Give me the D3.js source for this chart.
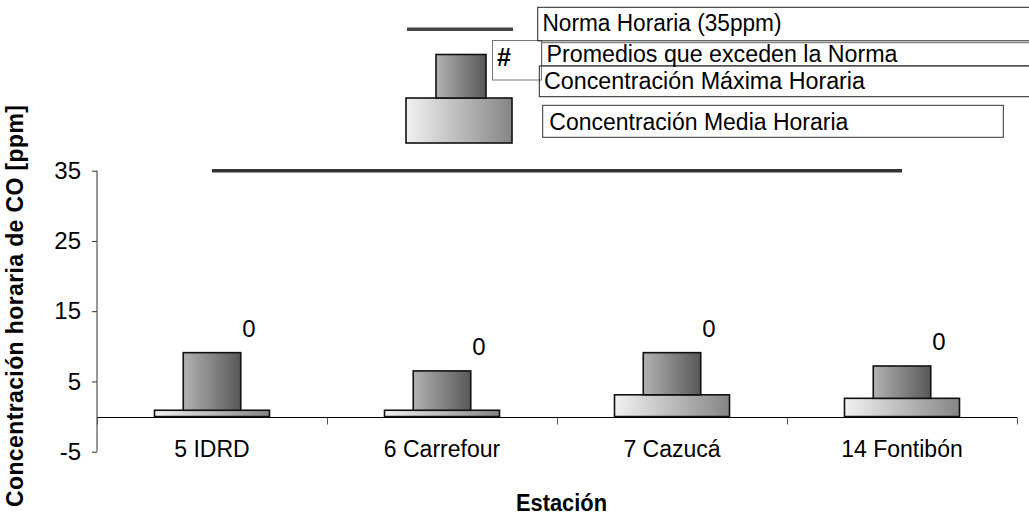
<!DOCTYPE html>
<html>
<head>
<meta charset="utf-8">
<script src="https://cdn.jsdelivr.net/npm/d3@7"></script>
<style>
body { margin: 0; background: #fff; }
svg { display: block; font-family: "Liberation Sans", Arial, sans-serif; }
</style>
</head>
<body>
<svg id="chart" width="1029" height="516"></svg>
<script>
var categories = ['5 IDRD', '6 Carrefour', '7 Cazucá', '14 Fontibón']
var media = [0.9, 0.9, 3.1, 2.6]
var maxima = [9.1, 6.5, 9.1, 7.2]
var excede = [0, 0, 0, 0]
var norma = 35
var yTicks = [-5, 5, 15, 25, 35]

var legendItems = ['Norma Horaria (35ppm)', 'Promedios que exceden la Norma', 'Concentración Máxima Horaria', 'Concentración Media Horaria']

var svg = d3.select('#chart')
var left = 97, right = 1017
var fs = 23

var x = d3.scaleBand().domain(categories).range([left, right])
var y = d3.scaleLinear().domain([-5, 35]).range([451.7, 170.7])

var defs = svg.append('defs')
function gradient(id, c1, c2) {
    var g = defs.append('linearGradient').attr('id', id)
        .attr('x1', '0%').attr('x2', '100%').attr('y1', '0%').attr('y2', '0%')
    g.append('stop').attr('offset', '0%').attr('stop-color', c1)
    g.append('stop').attr('offset', '100%').attr('stop-color', c2)
}
gradient('gmax', '#b2b2b2', '#585858')
gradient('gmed', '#f2f2f2', '#858585')

// y axis
var yAxis = svg.append('g').attr('transform', 'translate(' + left + ',0)')
    .call(d3.axisLeft(y).tickValues(yTicks).tickSize(5).tickPadding(11)
        .tickFormat(function(d) { return String(d) }))
yAxis.select('.domain').attr('stroke', '#333').attr('d', 'M0,' + y(-5) + 'V' + y(35))
yAxis.selectAll('.tick line').attr('stroke', '#333')
yAxis.selectAll('.tick text').attr('font-size', 24).attr('fill', '#000')
    .attr('font-family', '"Liberation Sans", Arial, sans-serif')

// x axis sitting on zero
var y0 = Math.round(y(0)) + 0.5
svg.append('line').attr('x1', left).attr('x2', right).attr('y1', y0).attr('y2', y0)
    .attr('stroke', '#000')
var xt = [left].concat(categories.map(function(c) { return x(c) + x.bandwidth() }))
svg.selectAll('line.xtick').data(xt).enter().append('line').classed('xtick', true)
    .attr('x1', function(d) { return Math.round(d) + 0.5 })
    .attr('x2', function(d) { return Math.round(d) + 0.5 })
    .attr('y1', y0).attr('y2', y0 + 7).attr('stroke', '#555')
svg.selectAll('text.cat').data(categories).enter().append('text').classed('cat', true)
    .attr('x', function(d) { return x(d) + x.bandwidth() / 2 })
    .attr('y', 449).attr('dy', '0.35em').attr('text-anchor', 'middle')
    .attr('font-size', fs).text(function(d) { return d })

// media bars (wide), then maxima (narrow)
var bw = x.bandwidth()
svg.selectAll('rect.med').data(categories).enter().append('rect').classed('med', true)
    .attr('x', function(d) { return x(d) + bw * 0.25 })
    .attr('width', bw * 0.5)
    .attr('y', function(d, i) { return y(media[i]) })
    .attr('height', function(d, i) { return y(0) - y(media[i]) })
    .attr('fill', 'url(#gmed)').attr('stroke', '#111').attr('stroke-width', 1.6)
svg.selectAll('rect.max').data(categories).enter().append('rect').classed('max', true)
    .attr('x', function(d) { return x(d) + bw * 0.375 })
    .attr('width', bw * 0.25)
    .attr('y', function(d, i) { return y(maxima[i]) })
    .attr('height', function(d, i) { return y(media[i]) - y(maxima[i]) })
    .attr('fill', 'url(#gmax)').attr('stroke', '#111').attr('stroke-width', 1.6)

// exceedance counts
svg.selectAll('text.exc').data(categories).enter().append('text').classed('exc', true)
    .attr('x', function(d) { return x(d) + bw / 2 + 37 })
    .attr('y', function(d, i) { return y(maxima[i]) - 24 })
    .attr('dy', '0.35em').attr('text-anchor', 'middle').attr('font-size', 24)
    .text(function(d, i) { return excede[i] })

// norma line
svg.append('line')
    .attr('x1', x(categories[0]) + bw / 2).attr('x2', x(categories[3]) + bw / 2)
    .attr('y1', y(norma)).attr('y2', y(norma))
    .attr('stroke', '#333').attr('stroke-width', 3.5)

// axis titles
svg.append('text').attr('transform', 'translate(15,306) rotate(-90)')
    .attr('text-anchor', 'middle').attr('dy', '0.35em')
    .attr('font-size', 23).attr('font-weight', 'bold')
    .attr('textLength', 402).attr('lengthAdjust', 'spacing')
    .text('Concentración horaria de CO [ppm]')
svg.append('text').attr('x', 516).attr('y', 503).attr('dy', '0.35em')
    .attr('font-size', 23).attr('font-weight', 'bold')
    .attr('textLength', 91).attr('lengthAdjust', 'spacingAndGlyphs')
    .text('Estación')

// legend
var lg = svg.append('g')
lg.append('line').attr('x1', 407).attr('x2', 513).attr('y1', 29.3).attr('y2', 29.3)
    .attr('stroke', '#444').attr('stroke-width', 3.5)
lg.append('rect').attr('x', 406).attr('y', 98).attr('width', 106).attr('height', 45)
    .attr('fill', 'url(#gmed)').attr('stroke', '#111').attr('stroke-width', 1.6)
lg.append('rect').attr('x', 436).attr('y', 54.5).attr('width', 50).attr('height', 43.5)
    .attr('fill', 'url(#gmax)').attr('stroke', '#111').attr('stroke-width', 1.6)

var boxes = [
    {x: 537.7, y: 7.3, w: 520, h: 33.5, stroke: '#222'},
    {x: 541.7, y: 42.7, w: 520, h: 23, stroke: '#666'},
    {x: 539.3, y: 66, w: 520, h: 30.7, stroke: '#222'},
    {x: 542.7, y: 105.3, w: 460.6, h: 32, stroke: '#333'}
]
var textX = [542.5, 546.5, 544, 549.3]
var textY = [22.5, 53.5, 80.5, 121.7]
var textW = [239, 351, 321, 299]
lg.append('rect').attr('x', 492.5).attr('y', 40.5).attr('width', 49).attr('height', 39.5)
    .attr('fill', 'none').attr('stroke', '#777')
lg.selectAll('rect.box').data(boxes).enter().append('rect').classed('box', true)
    .attr('x', function(d) { return d.x }).attr('y', function(d) { return d.y })
    .attr('width', function(d) { return d.w }).attr('height', function(d) { return d.h })
    .attr('fill', 'none').attr('stroke', function(d) { return d.stroke })
lg.selectAll('text.leg').data(legendItems).enter().append('text').classed('leg', true)
    .attr('x', function(d, i) { return textX[i] })
    .attr('y', function(d, i) { return textY[i] })
    .attr('textLength', function(d, i) { return textW[i] }).attr('lengthAdjust', 'spacingAndGlyphs')
    .attr('dy', '0.35em').attr('font-size', fs).text(function(d) { return d })
lg.append('text').attr('x', 497).attr('y', 57.3).attr('dy', '0.35em')
    .attr('font-size', 25).attr('font-weight', 'bold').text('#')
</script>
</body>
</html>
